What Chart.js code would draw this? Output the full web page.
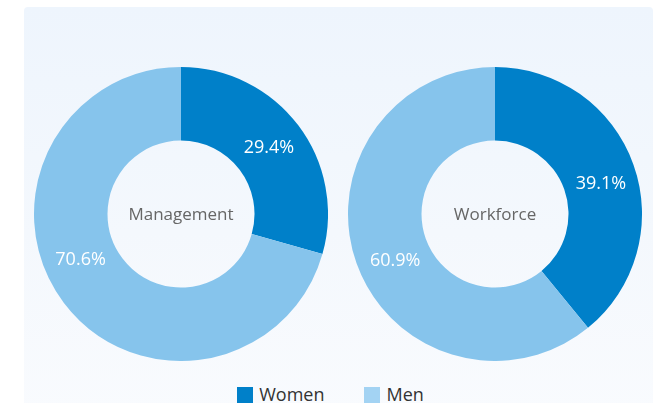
<!DOCTYPE html>
<html>
<head>
<meta charset="utf-8">
<script src="https://cdn.jsdelivr.net/npm/chart.js@4/dist/chart.umd.min.js"></script>
<style>
  html, body { margin: 0; padding: 0; background: #ffffff; }
  body { width: 661px; height: 403px; position: relative; overflow: hidden; font-family: "Open Sans", sans-serif; }
  #panel { position: absolute; left: 24px; top: 7px; width: 629px; height: 410px; border-radius: 4px;
           background: linear-gradient(to bottom, #EEF5FD 0%, #F4F8FD 55%, #F9FBFE 100%); }
  canvas.donut { position: absolute; top: 67px; }
  #c1 { left: 34px; }
  #c2 { left: 348px; }
  #legend { position: absolute; left: 0; width: 661px; top: 382px; text-align: center; font-size: 18px; color: #333; white-space: nowrap; }
  #legend span.item { display: inline-block; margin: 0 20px; }
  #legend span.box { display: inline-block; width: 16px; height: 16px; vertical-align: -2px; margin-right: 6px; }
</style>
</head>
<body>
<div id="panel"></div>
<canvas id="c1" class="donut" width="294" height="294"></canvas>
<canvas id="c2" class="donut" width="294" height="294"></canvas>
<div id="legend"></div>
<script>
const categories = ['Women', 'Men'];
const managementValues = [29.4, 70.6];
const workforceValues = [39.1, 60.9];
const chartTitles = ['Management', 'Workforce'];
const sliceColors = ['#0080C9', '#86C4EC'];
const legendColors = ['#0080C9', '#A3D3F3'];
// where along each slice the label sits (0 = start, 1 = end)
const labelPlacement = [[0.5, 0.55], [0.525, 0.475]];

function makeLabelPlugin(title, placement) {
  return {
    id: 'donutLabels',
    afterDatasetsDraw(chart) {
      const ctx = chart.ctx;
      const meta = chart.getDatasetMeta(0);
      const ds = chart.data.datasets[0];
      ctx.save();
      ctx.textAlign = 'center';
      ctx.textBaseline = 'middle';
      meta.data.forEach((arc, i) => {
        const p = arc.getProps(['x', 'y', 'startAngle', 'endAngle', 'innerRadius', 'outerRadius'], true);
        const a = p.startAngle + placement[i] * (p.endAngle - p.startAngle);
        const r = (p.innerRadius + p.outerRadius) / 2;
        ctx.font = '18px "Open Sans", sans-serif';
        ctx.fillStyle = '#ffffff';
        ctx.fillText(ds.data[i].toFixed(1) + '%', p.x + Math.cos(a) * r, p.y + Math.sin(a) * r);
      });
      const c = meta.data[0];
      ctx.font = '17px "Open Sans", sans-serif';
      ctx.fillStyle = '#666666';
      ctx.fillText(title, c.x, c.y + 1);
      ctx.restore();
    }
  };
}

function makeDonut(id, values, title, placement) {
  return new Chart(document.getElementById(id), {
    type: 'doughnut',
    data: {
      labels: categories,
      datasets: [{ data: values, backgroundColor: sliceColors, borderWidth: 0, hoverOffset: 0, offset: 0 }]
    },
    options: {
      responsive: false,
      animation: false,
      cutout: '50%',
      layout: { padding: 0 },
      plugins: { legend: { display: false }, tooltip: { enabled: false } },
      events: []
    },
    plugins: [makeLabelPlugin(title, placement)]
  });
}

makeDonut('c1', managementValues, chartTitles[0], labelPlacement[0]);
makeDonut('c2', workforceValues, chartTitles[1], labelPlacement[1]);

const legend = document.getElementById('legend');
categories.forEach((cat, i) => {
  const item = document.createElement('span');
  item.className = 'item';
  const box = document.createElement('span');
  box.className = 'box';
  box.style.background = legendColors[i];
  item.appendChild(box);
  item.appendChild(document.createTextNode(cat));
  legend.appendChild(item);
});
</script>
</body>
</html>
